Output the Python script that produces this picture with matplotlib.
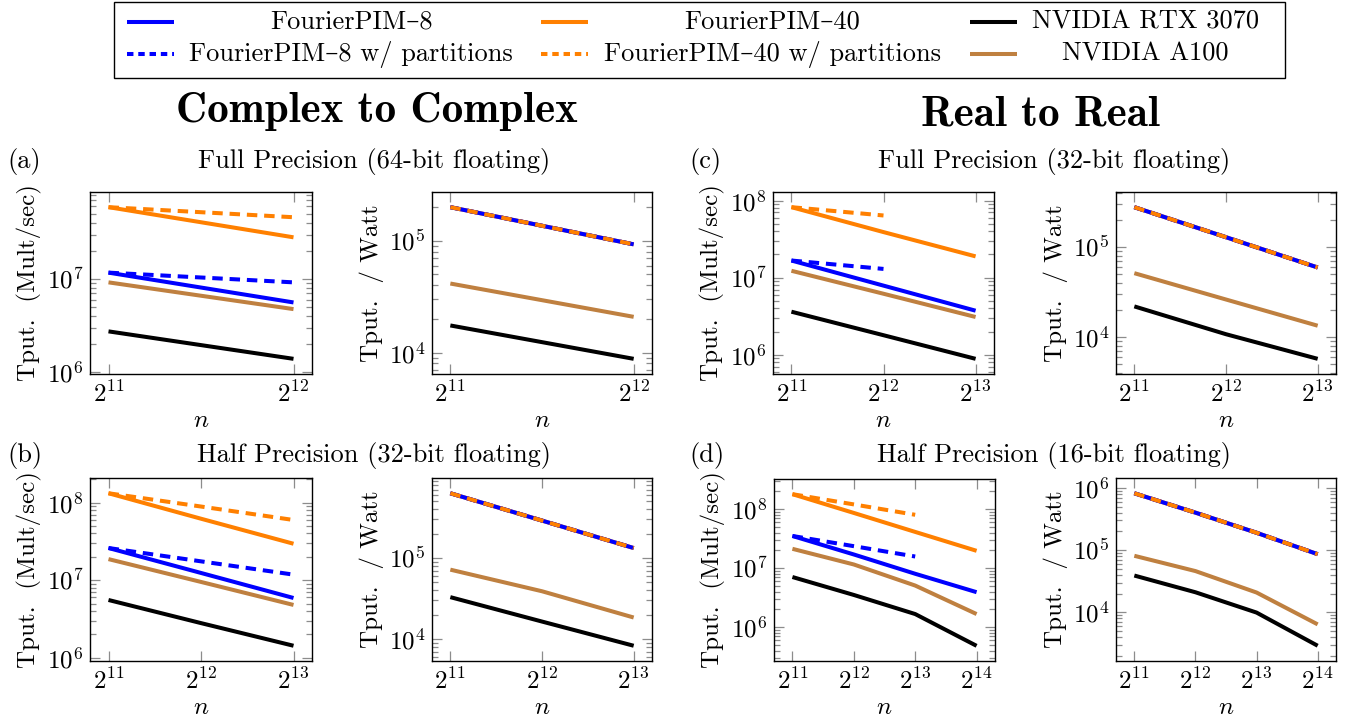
import numpy as np
import matplotlib
matplotlib.use("Agg")
import matplotlib.pyplot as plt
from matplotlib.lines import Line2D
from matplotlib.patches import Rectangle
from matplotlib.ticker import LogLocator, NullFormatter, NullLocator, FixedLocator, FixedFormatter

plt.rcParams['font.family'] = ['cmr10', 'DejaVu Serif']
plt.rcParams['mathtext.fontset'] = 'cm'
plt.rcParams['axes.formatter.use_mathtext'] = True
plt.rcParams['axes.unicode_minus'] = False

# ---------------- data ----------------
# (a) Complex-to-Complex, full precision (64-bit)
n_a = [2**11, 2**12]
a_pim8 = [1.17e7, 5.6e6]
a_pim8p = [1.17e7, 9.2e6]
a_pim40 = [5.9e7, 2.8e7]
a_pim40p = [5.9e7, 4.6e7]
a_rtx = [2.74e6, 1.39e6]
a_a100 = [9.2e6, 4.75e6]
a_eff_pim = [2.0e5, 9.3e4]
a_eff_rtx = [1.75e4, 8.8e3]
a_eff_a100 = [4.15e4, 2.09e4]

# (b) Complex-to-Complex, half precision (32-bit)
n_b = [2**11, 2**12, 2**13]
b_pim8 = [2.6e7, 1.24e7, 5.9e6]
b_pim8p = [2.6e7, 1.75e7, 1.18e7]
b_pim40 = [1.32e8, 6.2e7, 2.95e7]
b_pim40p = [1.32e8, 8.9e7, 5.97e7]
b_rtx = [5.56e6, 2.8e6, 1.43e6]
b_a100 = [1.87e7, 9.5e6, 4.8e6]
b_eff_pim = [6.3e5, 2.9e5, 1.33e5]
b_eff_rtx = [3.3e4, 1.65e4, 8.3e3]
b_eff_a100 = [7.2e4, 3.9e4, 1.85e4]

# (c) Real-to-Real, full precision (32-bit)
n_c = [2**11, 2**12, 2**13]
c_pim8 = [1.67e7, 7.9e6, 3.74e6]
c_pim8p = [1.67e7, 1.3e7]
c_pim40 = [8.2e7, 3.9e7, 1.89e7]
c_pim40p = [8.2e7, 6.4e7]
c_rtx = [3.63e6, 1.8e6, 8.9e5]
c_a100 = [1.23e7, 6.2e6, 3.1e6]
c_eff_pim = [2.76e5, 1.28e5, 5.9e4]
c_eff_rtx = [2.18e4, 1.07e4, 5.7e3]
c_eff_a100 = [5.1e4, 2.6e4, 1.33e4]

# (d) Real-to-Real, half precision (16-bit)
n_d = [2**11, 2**12, 2**13, 2**14]
d_pim8 = [3.5e7, 1.7e7, 8.0e6, 3.9e6]
d_pim8p = [3.5e7, 2.35e7, 1.57e7]
d_pim40 = [1.79e8, 8.6e7, 4.1e7, 1.96e7]
d_pim40p = [1.79e8, 1.2e8, 8.0e7]
d_rtx = [7.05e6, 3.5e6, 1.66e6, 4.8e5]
d_a100 = [2.12e7, 1.15e7, 5.05e6, 1.66e6]
d_eff_pim = [8.2e5, 4.0e5, 1.9e5, 8.6e4]
d_eff_rtx = [3.9e4, 2.1e4, 9.9e3, 2.9e3]
d_eff_a100 = [8.1e4, 4.6e4, 2.08e4, 6.4e3]

labels = ["FourierPIM\u20138", "FourierPIM\u20138 w/ partitions",
          "FourierPIM\u201340", "FourierPIM\u201340 w/ partitions",
          "NVIDIA RTX 3070", "NVIDIA A100"]

# ---------------- style ----------------
BLUE = '#0000ff'
ORANGE = '#ff8000'
BLACK = '#000000'
BROWN = '#bf8040'
LW = 2.9
DASH = (2.6, 1.7)
FS = 19
TFS = 18

W, H = 1350, 719
fig = plt.figure(figsize=(W / 100, H / 100), dpi=100)


def add_ax(x0, x1, y0, y1):
    return fig.add_axes([x0 / W, 1 - y1 / H, (x1 - x0) / W, (y1 - y0) / H])


def style(ax, n, ylabel):
    ax.set_xscale('log', base=2)
    ax.set_yscale('log')
    ax.margins(x=0.1, y=0.1)
    ax.xaxis.set_major_locator(FixedLocator(n))
    ax.xaxis.set_major_formatter(FixedFormatter([r'$2^{%d}$' % int(round(np.log2(v))) for v in n]))
    ax.xaxis.set_minor_locator(NullLocator())
    ax.yaxis.set_major_locator(LogLocator(base=10))
    ax.yaxis.set_minor_locator(LogLocator(base=10, subs=np.arange(2, 10)))
    ax.yaxis.set_minor_formatter(NullFormatter())
    ax.tick_params(which='both', direction='in', top=True, right=True,
                   color='0.55', labelsize=TFS, width=0.9)
    ax.tick_params(which='major', length=7, pad=5)
    ax.tick_params(which='minor', length=4)
    ax.set_ylabel(ylabel, fontsize=TFS, labelpad=3)
    ax.set_xlabel('$n$', fontsize=TFS, labelpad=2)
    for s in ax.spines.values():
        s.set_linewidth(1.0)


def draw_tput(ax, n, pim8, pim8p, pim40, pim40p, rtx, a100):
    ax.plot(n[:len(rtx)], rtx, color=BLACK, lw=LW, solid_capstyle='butt')
    ax.plot(n[:len(a100)], a100, color=BROWN, lw=LW, solid_capstyle='butt')
    ax.plot(n[:len(pim8)], pim8, color=BLUE, lw=LW, solid_capstyle='butt')
    ax.plot(n[:len(pim8p)], pim8p, color=BLUE, lw=LW, dashes=DASH, dash_capstyle='butt')
    ax.plot(n[:len(pim40)], pim40, color=ORANGE, lw=LW, solid_capstyle='butt')
    ax.plot(n[:len(pim40p)], pim40p, color=ORANGE, lw=LW, dashes=DASH, dash_capstyle='butt')
    style(ax, n, 'Tput.  (Mult/sec)')


def draw_eff(ax, n, pim, rtx, a100):
    ax.plot(n, rtx, color=BLACK, lw=LW, solid_capstyle='butt')
    ax.plot(n, a100, color=BROWN, lw=LW, solid_capstyle='butt')
    ax.plot(n, pim, color=ORANGE, lw=LW, solid_capstyle='butt')
    ax.plot(n, pim, color=BLUE, lw=LW, solid_capstyle='butt')
    ax.plot(n, pim, color=BLUE, lw=LW, dashes=DASH, dash_capstyle='butt')
    ax.plot(n, pim, color=ORANGE, lw=LW, dashes=DASH, dash_capstyle='butt')
    style(ax, n, 'Tput.  / Watt')


ax_a1 = add_ax(90, 312, 192, 374)
ax_a2 = add_ax(432, 652, 192, 374)
ax_c1 = add_ax(773, 994, 192, 374)
ax_c2 = add_ax(1116, 1336, 192, 374)
ax_b1 = add_ax(90, 312, 478, 661)
ax_b2 = add_ax(432, 652, 478, 661)
ax_d1 = add_ax(774, 995, 479, 661)
ax_d2 = add_ax(1116, 1336, 478, 661)

draw_tput(ax_a1, n_a, a_pim8, a_pim8p, a_pim40, a_pim40p, a_rtx, a_a100)
draw_eff(ax_a2, n_a, a_eff_pim, a_eff_rtx, a_eff_a100)
draw_tput(ax_b1, n_b, b_pim8, b_pim8p, b_pim40, b_pim40p, b_rtx, b_a100)
draw_eff(ax_b2, n_b, b_eff_pim, b_eff_rtx, b_eff_a100)
draw_tput(ax_c1, n_c, c_pim8, c_pim8p, c_pim40, c_pim40p, c_rtx, c_a100)
draw_eff(ax_c2, n_c, c_eff_pim, c_eff_rtx, c_eff_a100)
draw_tput(ax_d1, n_d, d_pim8, d_pim8p, d_pim40, d_pim40p, d_rtx, d_a100)
draw_eff(ax_d2, n_d, d_eff_pim, d_eff_rtx, d_eff_a100)

# ---------------- titles ----------------
def ftext(x, y, s, **kw):
    fig.text(x / W, 1 - y / H, s, **kw)

ftext(377, 122, 'Complex to Complex', fontsize=31, family='cmb10', ha='center', va='baseline')
ftext(1040, 125, 'Real to Real', fontsize=31, family='cmb10', ha='center', va='baseline')

ftext(374, 168, 'Full Precision (64-bit floating)', fontsize=FS, ha='center', va='baseline')
ftext(1054, 168, 'Full Precision (32-bit floating)', fontsize=FS, ha='center', va='baseline')
ftext(374, 462, 'Half Precision (32-bit floating)', fontsize=FS, ha='center', va='baseline')
ftext(1054, 462, 'Half Precision (16-bit floating)', fontsize=FS, ha='center', va='baseline')
ftext(7, 168, '(a)', fontsize=FS, ha='left', va='baseline')
ftext(7, 462, '(b)', fontsize=FS, ha='left', va='baseline')
ftext(689, 168, '(c)', fontsize=FS, ha='left', va='baseline')
ftext(689, 462, '(d)', fontsize=FS, ha='left', va='baseline')

# ---------------- legend ----------------
lax = fig.add_axes([0, 0, 1, 1], facecolor='none')
lax.set_xlim(0, W)
lax.set_ylim(H, 0)
lax.axis('off')
lax.add_patch(Rectangle((114, 2), 1171, 76, fill=False, lw=1.0, ec='black'))
handles = [(BLUE, None), (BLUE, DASH), (ORANGE, None), (ORANGE, DASH), (BLACK, None), (BROWN, None)]
col_handle_x = [127, 541, 970]
col_text_x = [351, 772, 1145]
row_y = [22, 54]
for i, ((c, d), lab) in enumerate(zip(handles, labels)):
    col, row = i // 2, i % 2
    x0 = col_handle_x[col]
    y = row_y[row]
    kw = dict(color=c, lw=LW, solid_capstyle='butt', dash_capstyle='butt')
    if d is not None:
        kw['dashes'] = (1.6, 1.2)
    lax.add_line(Line2D([x0, x0 + 47], [y, y], **kw))
    lax.text(col_text_x[col], y, lab, fontsize=FS, ha='center', va='center')

fig.savefig('out.png', dpi=100)
